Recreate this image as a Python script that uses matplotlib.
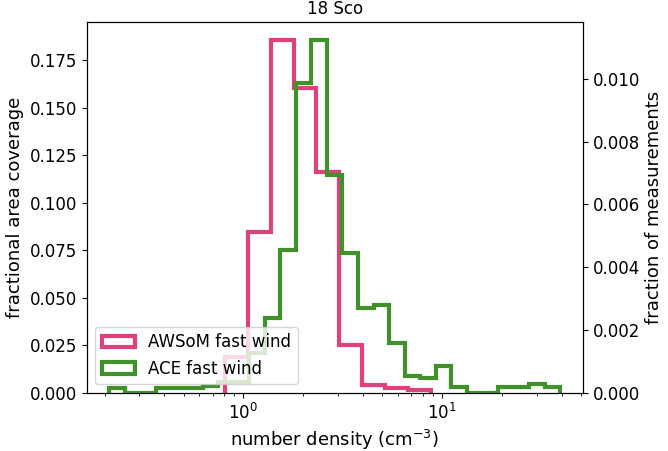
import matplotlib
matplotlib.use("Agg")
import matplotlib.pyplot as plt

# AWSoM model: fractional area coverage per density bin
awsom_edges = [0.810, 1.055, 1.374, 1.790, 2.331, 3.037, 3.956, 5.153, 6.713, 8.744]
awsom_frac = [0.0190, 0.0848, 0.1857, 0.1603, 0.1161, 0.0251, 0.0041, 0.0023, 0.0014]

# ACE measurements: fraction of measurements per density bin
ace_edges = [0.2113, 0.2530, 0.3030, 0.3628, 0.4345, 0.5202, 0.6229, 0.7459,
             0.8932, 1.0695, 1.2807, 1.5334, 1.8363, 2.1988, 2.6330, 3.1524,
             3.7745, 4.5204, 5.4112, 6.4806, 7.7589, 9.2897, 11.126, 13.321,
             15.952, 19.099, 22.869, 27.385, 32.786, 39.264]
ace_frac = [0.00014, 0.0, 0.0, 0.00014, 0.00014, 0.00014, 0.00022, 0.00035,
            0.00035, 0.00126, 0.00237, 0.00455, 0.00986, 0.01124, 0.00694,
            0.00444, 0.00269, 0.00280, 0.00157, 0.00054, 0.00046, 0.00086,
            0.00017, 0.0, 0.0, 0.00017, 0.00017, 0.00027, 0.00017]

pink = "#e0407b"
green = "#3f9129"

plt.rcParams["font.size"] = 12

fig = plt.figure(figsize=(6.68, 4.51), dpi=100)
ax = fig.add_axes([0.1298, 0.1293, 0.7425, 0.8213])
ax2 = ax.twinx()

ax.hist(awsom_edges[:-1], bins=awsom_edges, weights=awsom_frac,
        histtype="step", color=pink, lw=3, label="AWSoM fast wind")
ax2.hist(ace_edges[:-1], bins=ace_edges, weights=ace_frac,
         histtype="step", color=green, lw=3, label="ACE fast wind")

ax.set_xscale("log")
ax.set_xlabel("number density (cm$^{-3}$)", fontsize=13)
ax.set_ylabel("fractional area coverage", fontsize=13)
ax2.set_ylabel("fraction of measurements", fontsize=13)
ax.set_title("18 Sco", fontsize=12)

h1, l1 = ax.get_legend_handles_labels()
h2, l2 = ax2.get_legend_handles_labels()
ax2.legend(h1 + h2, l1 + l2, loc="lower left")

fig.savefig("out.png", dpi=100)
